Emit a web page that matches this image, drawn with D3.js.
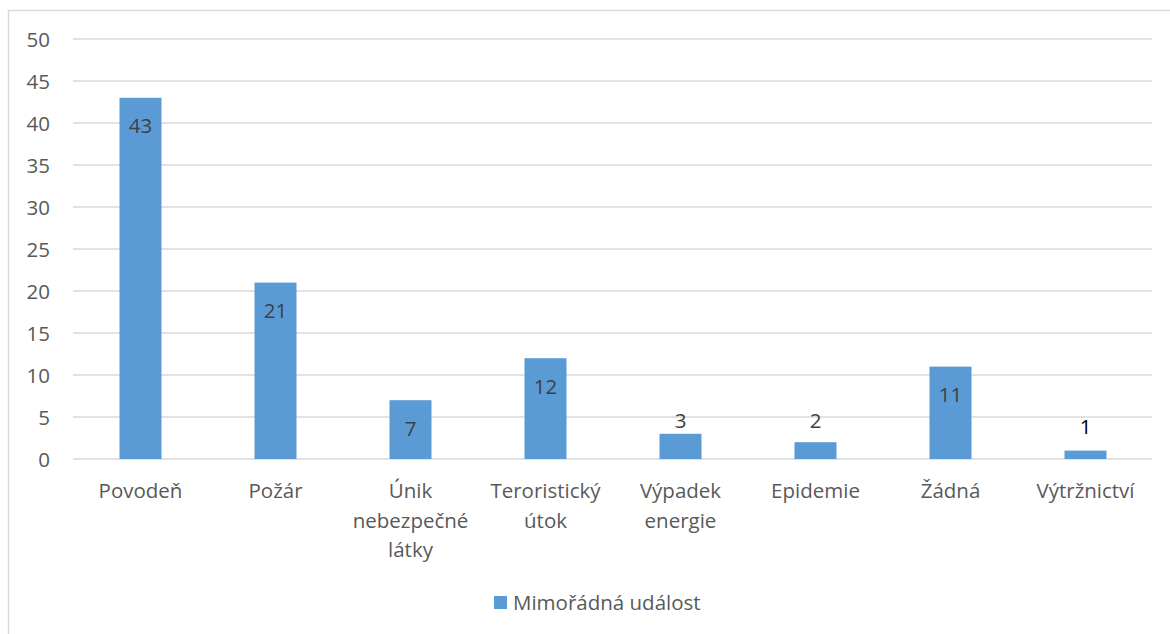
<!DOCTYPE html>
<html><head><meta charset="utf-8">
<script src="https://cdn.jsdelivr.net/npm/d3@7"></script>
<style>body{margin:0;background:#fff}svg{display:block}text{font-family:"Open Sans",sans-serif}</style>
</head><body><svg id="c" width="1170" height="634"></svg>
<script>
const categories = [["Povodeň"],["Požár"],["Únik","nebezpečné","látky"],["Teroristický","útok"],["Výpadek","energie"],["Epidemie"],["Žádná"],["Výtržnictví"]];
const values = [43,21,7,12,3,2,11,1];
const yTicks = [0,5,10,15,20,25,30,35,40,45,50];
const seriesName = "Mimořádná událost";

const FS = "20.5px";
const svg = d3.select("#c");
svg.append("rect").attr("x",8.5).attr("y",10.5).attr("width",1180).attr("height",640)
  .attr("fill","#fff").attr("stroke","#d9d9d9").attr("stroke-width",1.5);

const x = d3.scaleBand().domain(d3.range(categories.length)).range([73,1153]);
const y = d3.scaleLinear().domain([0,50]).range([459,39]);

const g = svg.append("g");
g.selectAll("line.grid").data(yTicks).join("line")
  .attr("x1",73).attr("x2",1152).attr("y1",d=>y(d)).attr("y2",d=>y(d))
  .attr("stroke","#d9d9d9").attr("stroke-width",1.5);

const yAxis = d3.axisLeft(y).tickValues(yTicks).tickSize(0).tickPadding(0);
const ya = svg.append("g").attr("transform","translate(50,0)").call(yAxis);
ya.select(".domain").remove();
ya.selectAll("text").attr("fill","#595959").style("font-size",FS).attr("dy","0.36em");

const bw = 42;
g.selectAll("rect.bar").data(values).join("rect")
  .attr("x",(d,i)=>x(i)+x.bandwidth()/2-bw/2).attr("width",bw)
  .attr("y",d=>y(d)).attr("height",d=>y(0)-y(d)).attr("fill","#5B9BD5");

// outside labels for small bars sit at a common height (as in source), "1" a bit lower
function labelY(d,i){
  if (d>=5) return y(d)+35.5;
  if (d===1) return y(d)-16.5;
  return Math.min(y(d)-6, y(3)-6);
}
g.selectAll("text.lbl").data(values).join("text")
  .attr("x",(d,i)=>x(i)+x.bandwidth()/2)
  .attr("y",labelY)
  .attr("text-anchor","middle")
  .attr("fill",(d,i)=> i===7 ? "#000" : "#404040")
  .style("font-size",FS)
  .text(d=>d);

const xa = svg.append("g");
categories.forEach((lines,i)=>{
  const t = xa.append("text").attr("text-anchor","middle").attr("fill","#595959").style("font-size",FS);
  lines.forEach((l,j)=>{
    t.append("tspan").attr("x",x(i)+x.bandwidth()/2).attr("y",498+j*29.5).text(l);
  });
});

const lg = svg.append("g");
lg.append("rect").attr("x",494).attr("y",596).attr("width",13).attr("height",13).attr("fill","#5B9BD5");
lg.append("text").attr("x",513).attr("y",610).attr("fill","#595959").style("font-size",FS).text(seriesName);
</script></body></html>
